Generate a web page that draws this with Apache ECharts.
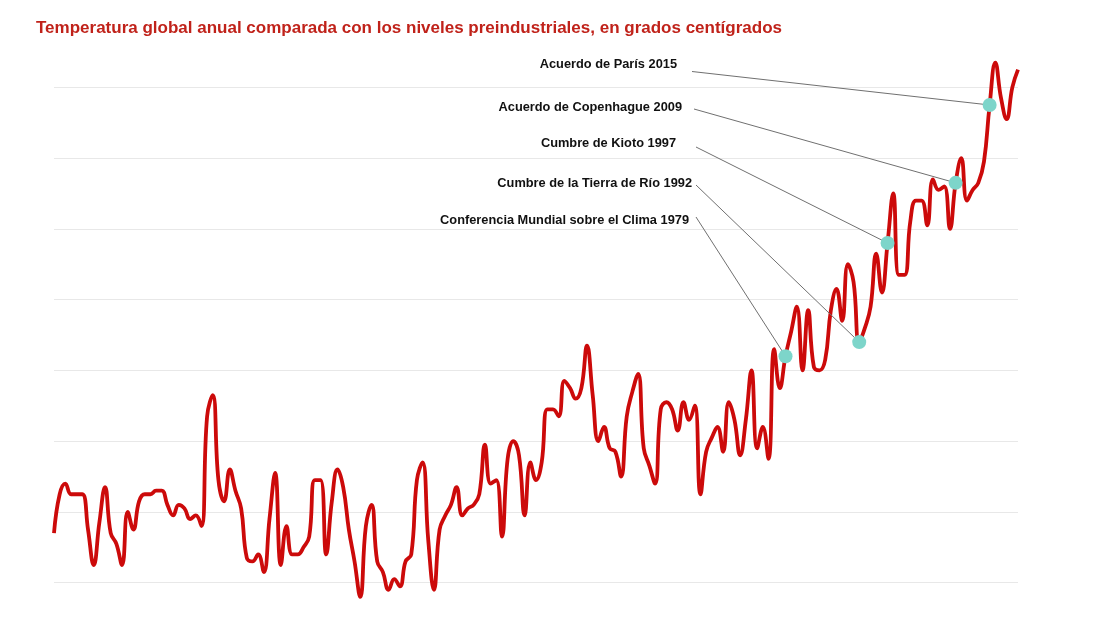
<!DOCTYPE html>
<html>
<head>
<meta charset="utf-8">
<script src="https://cdn.jsdelivr.net/npm/echarts@6/dist/echarts.min.js"></script>
<style>
html,body{margin:0;padding:0;background:#ffffff;}
#chart{width:1110px;height:624px;}
</style>
</head>
<body>
<div id="chart"></div>
<script>
// ---------- data ----------
const startYear = 1850;
// annual anomaly vs. pre-industrial, °C, 1850..2020
const temps = [
  -0.06, 0.05, 0.08, 0.05, 0.05, 0.05, -0.05, -0.15, -0.03, 0.07,
  -0.06, -0.09, -0.15, 0.00, -0.05, 0.03, 0.05, 0.05, 0.06, 0.06,
  0.02, -0.01, 0.02, 0.01, -0.02, -0.01, -0.04, 0.27, 0.33, 0.09,
  0.03, 0.12, 0.06, 0.01, -0.13, -0.14, -0.12, -0.17, -0.02, 0.11,
  -0.15, -0.04, -0.12, -0.12, -0.10, -0.07, 0.09, 0.09, -0.12, 0.03,
  0.12, 0.07, -0.05, -0.14, -0.24, -0.04, 0.02, -0.14, -0.17, -0.22,
  -0.19, -0.21, -0.14, -0.12, 0.09, 0.14, -0.08, -0.22, -0.05, -0.01,
  0.02, 0.07, -0.01, 0.01, 0.02, 0.05, 0.19, 0.08, 0.09, -0.07,
  0.15, 0.20, 0.16, -0.01, 0.14, 0.09, 0.14, 0.29, 0.29, 0.27,
  0.37, 0.35, 0.32, 0.35, 0.47, 0.33, 0.20, 0.24, 0.18, 0.17,
  0.10, 0.27, 0.34, 0.39, 0.18, 0.13, 0.08, 0.29, 0.31, 0.29,
  0.23, 0.31, 0.26, 0.30, 0.05, 0.17, 0.21, 0.24, 0.17, 0.31,
  0.26, 0.16, 0.26, 0.40, 0.18, 0.24, 0.15, 0.46, 0.35, 0.44,
  0.51, 0.58, 0.40, 0.57, 0.41, 0.40, 0.43, 0.57, 0.63, 0.54,
  0.70, 0.65, 0.48, 0.52, 0.58, 0.73, 0.62, 0.76, 0.90, 0.67,
  0.67, 0.82, 0.88, 0.88, 0.81, 0.94, 0.91, 0.92, 0.80, 0.93,
  1.00, 0.88, 0.91, 0.93, 0.99, 1.15, 1.27, 1.17, 1.11, 1.20, 1.25
];
const years = temps.map(function (_, i) { return String(startYear + i); });

const eventNames = [
  'Conferencia Mundial sobre el Clima 1979',
  'Cumbre de la Tierra de Río 1992',
  'Cumbre de Kioto 1997',
  'Acuerdo de Copenhague 2009',
  'Acuerdo de París 2015'
];
const eventYears = [1979, 1992, 1997, 2009, 2015];

const yMin = -0.2, yMax = 1.2, yStep = 0.2;

const titleText = 'Temperatura global anual comparada con los niveles preindustriales, en grados centígrados';

// ---------- layout (pixels) ----------
const labelLayout = [
  { tx: 689, ty: 220, lx: 696, ly: 217 },
  { tx: 692, ty: 183.5, lx: 696, ly: 185 },
  { tx: 676, ty: 143.5, lx: 696, ly: 147 },
  { tx: 682, ty: 107, lx: 694, ly: 109 },
  { tx: 677, ty: 64.5, lx: 692, ly: 71.5 }
];

const eventData = eventYears.map(function (y) {
  const idx = y - startYear;
  return [idx, temps[idx]];
});

const chart = echarts.init(document.getElementById('chart'), null, { renderer: 'canvas' });

chart.setOption({
  animation: false,
  backgroundColor: '#ffffff',
  title: {
    text: titleText,
    left: 36,
    top: 19.5,
    padding: 0,
    textStyle: {
      color: '#c0221a',
      fontFamily: '"Liberation Sans", Arial, sans-serif',
      fontWeight: 'bold',
      fontSize: 17
    }
  },
  grid: { left: 54, right: 92, top: 87.3, bottom: 41.3, containLabel: false },
  xAxis: {
    type: 'category',
    data: years,
    boundaryGap: false,
    axisLine: { show: false },
    axisTick: { show: false },
    axisLabel: { show: false },
    splitLine: { show: false }
  },
  yAxis: {
    type: 'value',
    min: yMin,
    max: yMax,
    interval: yStep,
    axisLine: { show: false },
    axisTick: { show: false },
    axisLabel: { show: false },
    splitLine: { show: true, lineStyle: { color: '#e8e8e8', width: 1 } }
  },
  series: [
    {
      type: 'line',
      data: temps,
      smooth: 0.45,
      clip: false,
      showSymbol: false,
      symbol: 'none',
      lineStyle: { color: '#cc0a0a', width: 3.8 },
      z: 2
    },
    {
      type: 'custom',
      data: eventData,
      z: 5,
      clip: false,
      renderItem: function (params, api) {
        const i = params.dataIndex;
        const p = api.coord([api.value(0), api.value(1)]);
        const L = labelLayout[i];
        return {
          type: 'group',
          children: [
            {
              type: 'line',
              shape: { x1: L.lx, y1: L.ly, x2: p[0], y2: p[1] },
              style: { stroke: '#707070', lineWidth: 1 }
            },
            {
              type: 'circle',
              shape: { cx: p[0], cy: p[1], r: 7 },
              style: { fill: '#7dd5ca' }
            },
            {
              type: 'text',
              style: {
                text: eventNames[i],
                x: L.tx,
                y: L.ty,
                align: 'right',
                verticalAlign: 'middle',
                font: 'bold 12.8px "Liberation Sans", Arial, sans-serif',
                fill: '#111111'
              }
            }
          ]
        };
      }
    }
  ]
});
</script>
</body>
</html>
